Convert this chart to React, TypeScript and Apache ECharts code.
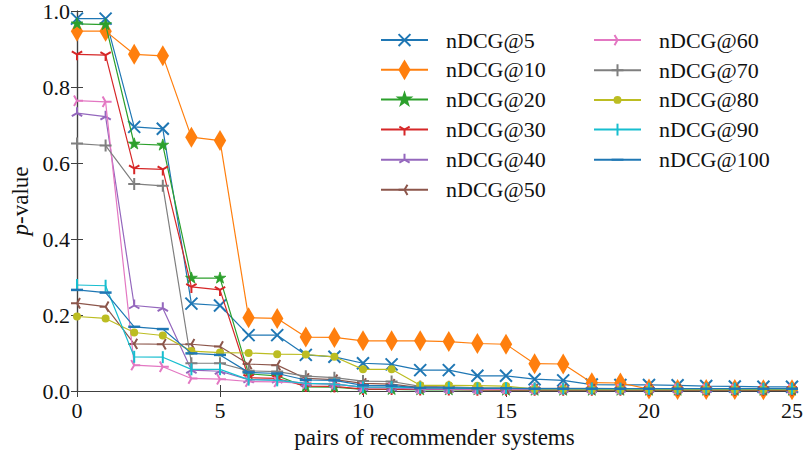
import React, { useEffect, useRef } from "react";
import * as echarts from "echarts";

// p-values for each pair of recommender systems (index 0..25), per nDCG cutoff
const seriesNames = [
  "nDCG@5", "nDCG@10", "nDCG@20", "nDCG@30", "nDCG@40", "nDCG@50",
  "nDCG@60", "nDCG@70", "nDCG@80", "nDCG@90", "nDCG@100",
];

const ndcg5 = [0.98, 0.98, 0.695, 0.69, 0.23, 0.225, 0.147, 0.147, 0.095, 0.09, 0.073, 0.07, 0.055, 0.055, 0.04, 0.04, 0.031, 0.028, 0.017, 0.016, 0.016, 0.015, 0.013, 0.012, 0.011, 0.011];
const ndcg10 = [0.947, 0.947, 0.886, 0.882, 0.668, 0.659, 0.193, 0.191, 0.142, 0.141, 0.132, 0.132, 0.132, 0.13, 0.125, 0.123, 0.072, 0.071, 0.022, 0.021, 0.005, 0.004, 0.004, 0.004, 0.003, 0.003];
const ndcg20 = [0.966, 0.964, 0.65, 0.647, 0.297, 0.297, 0.045, 0.04, 0.011, 0.01, 0.004, 0.004, 0.003, 0.003, 0.003, 0.002, 0.002, 0.002, 0.002, 0.002, 0.002, 0.002, 0.002, 0.002, 0.002, 0.002];
const ndcg30 = [0.886, 0.884, 0.586, 0.583, 0.274, 0.266, 0.035, 0.033, 0.013, 0.012, 0.005, 0.005, 0.004, 0.004, 0.003, 0.003, 0.003, 0.003, 0.003, 0.003, 0.003, 0.003, 0.003, 0.003, 0.003, 0.003];
const ndcg40 = [0.731, 0.722, 0.225, 0.218, 0.055, 0.052, 0.03, 0.029, 0.02, 0.019, 0.009, 0.008, 0.005, 0.005, 0.004, 0.004, 0.004, 0.004, 0.004, 0.004, 0.004, 0.004, 0.004, 0.004, 0.004, 0.004];
const ndcg50 = [0.231, 0.222, 0.124, 0.123, 0.123, 0.117, 0.071, 0.068, 0.033, 0.03, 0.02, 0.018, 0.009, 0.008, 0.006, 0.006, 0.005, 0.005, 0.005, 0.005, 0.005, 0.005, 0.005, 0.005, 0.005, 0.005];
const ndcg60 = [0.764, 0.761, 0.068, 0.064, 0.033, 0.031, 0.025, 0.024, 0.02, 0.018, 0.01, 0.01, 0.006, 0.006, 0.005, 0.005, 0.005, 0.005, 0.005, 0.005, 0.005, 0.005, 0.005, 0.005, 0.005, 0.005];
const ndcg70 = [0.651, 0.646, 0.545, 0.54, 0.073, 0.073, 0.053, 0.051, 0.039, 0.035, 0.026, 0.025, 0.012, 0.011, 0.008, 0.008, 0.007, 0.007, 0.007, 0.006, 0.006, 0.006, 0.006, 0.006, 0.006, 0.006];
const ndcg80 = [0.196, 0.191, 0.154, 0.146, 0.105, 0.101, 0.1, 0.097, 0.096, 0.09, 0.057, 0.057, 0.015, 0.015, 0.014, 0.013, 0.005, 0.005, 0.004, 0.004, 0.004, 0.004, 0.004, 0.004, 0.004, 0.004];
const ndcg90 = [0.279, 0.277, 0.09, 0.089, 0.057, 0.057, 0.03, 0.028, 0.02, 0.018, 0.01, 0.01, 0.008, 0.008, 0.007, 0.007, 0.006, 0.006, 0.006, 0.006, 0.006, 0.006, 0.006, 0.006, 0.006, 0.006];
const ndcg100 = [0.266, 0.259, 0.169, 0.163, 0.099, 0.095, 0.049, 0.046, 0.029, 0.028, 0.015, 0.014, 0.008, 0.008, 0.007, 0.007, 0.006, 0.006, 0.006, 0.006, 0.006, 0.006, 0.006, 0.006, 0.006, 0.006];

const seriesValues = [ndcg5, ndcg10, ndcg20, ndcg30, ndcg40, ndcg50, ndcg60, ndcg70, ndcg80, ndcg90, ndcg100];

const xTicks = [0, 5, 10, 15, 20, 25];
const yTicks = [0, 0.2, 0.4, 0.6, 0.8, 1.0];

const colors = [
  "#1f77b4", "#ff7f0e", "#2ca02c", "#d62728", "#9467bd", "#8c564b",
  "#e377c2", "#7f7f7f", "#bcbd22", "#17becf", "#1f77b4",
];

// Every marker path sits in the same square box so that all markers share one symbolSize
const BOX = " M-10.5,-10.5 M10.5,10.5";
type Marker = { path: string; filled: boolean; width: number };
const markers: Marker[] = [
  { path: "M-6,-6L6,6M6,-6L-6,6", filled: false, width: 2 }, // x
  { path: "M0,-10.5L6.2,0L0,10.5L-6.2,0Z", filled: true, width: 0 }, // thin diamond
  { path: "M0,-6.2L1.4,-1.9L5.9,-1.9L2.3,0.7L3.6,5L0,2.4L-3.6,5L-2.3,0.7L-5.9,-1.9L-1.4,-1.9Z", filled: true, width: 0.8 }, // star
  { path: "M0,0L0,6M0,0L-5.2,-3M0,0L5.2,-3", filled: false, width: 2 }, // tri down
  { path: "M0,0L0,-6M0,0L-5.2,3M0,0L5.2,3", filled: false, width: 2 }, // tri up
  { path: "M0,0L-6,0M0,0L3,-5.2M0,0L3,5.2", filled: false, width: 2 }, // tri left
  { path: "M0,0L6,0M0,0L-3,-5.2M0,0L-3,5.2", filled: false, width: 2 }, // tri right
  { path: "M-6,0L6,0M0,-6L0,6", filled: false, width: 2 }, // plus
  { path: "M-4,0A4,4 0 1,0 4,0A4,4 0 1,0 -4,0Z", filled: true, width: 0 }, // point
  { path: "M0,-6L0,6", filled: false, width: 2 }, // vline
  { path: "M-6,0L6,0", filled: false, width: 2.5 }, // hline
];

const FONT = "Liberation Serif";
const AXIS_COLOR = "#404040";
const TEXT_COLOR = "#111";

export default function App() {
  const ref = useRef<HTMLDivElement>(null);

  useEffect(() => {
    document.body.style.margin = "0";
    if (!ref.current) return;
    const chart = echarts.init(ref.current, null, { renderer: "svg" });

    const series = seriesNames.map((name, k) => {
      const m = markers[k];
      return {
        name,
        type: "line",
        data: seriesValues[k].map((v, i) => [i, v]),
        symbol: "path://" + m.path + BOX,
        symbolSize: 21,
        showSymbol: true,
        showAllSymbol: true,
        lineStyle: { color: colors[k], width: 1.2 },
        itemStyle: {
          color: m.filled ? colors[k] : "rgba(0,0,0,0)",
          borderColor: colors[k],
          borderWidth: m.width,
        },
        emphasis: { disabled: true },
        z: 2 + k,
      };
    });

    const legendCommon = {
      orient: "vertical",
      padding: 0,
      itemWidth: 47,
      itemHeight: 26,
      itemGap: 7.3,
      selectedMode: false,
      textStyle: { fontFamily: FONT, fontSize: 22, color: TEXT_COLOR, padding: [0, 0, 0, 13] },
    };

    const sideAxis = {
      type: "value",
      axisLine: { show: true, lineStyle: { color: AXIS_COLOR, width: 1.2 } },
      axisTick: { show: true, inside: true, length: 6, lineStyle: { color: AXIS_COLOR } },
      axisLabel: { show: false },
      splitLine: { show: false },
    };

    chart.setOption({
      animation: false,
      backgroundColor: "#fff",
      textStyle: { fontFamily: FONT },
      grid: { left: 77, right: 14, top: 11, bottom: 64, outerBoundsMode: "none" },
      legend: [
        { ...legendCommon, left: 380, top: 28.7, data: seriesNames.slice(0, 6) },
        { ...legendCommon, left: 593, top: 28.7, data: seriesNames.slice(6) },
      ],
      xAxis: [
        {
          type: "value",
          min: xTicks[0],
          max: xTicks[xTicks.length - 1],
          interval: 5,
          name: "pairs of recommender systems",
          nameLocation: "middle",
          nameGap: 34,
          nameTextStyle: { fontFamily: FONT, fontSize: 23, color: TEXT_COLOR },
          axisLine: { show: true, lineStyle: { color: AXIS_COLOR, width: 1.2 } },
          axisTick: { show: true, inside: true, length: 6, lineStyle: { color: AXIS_COLOR } },
          axisLabel: { fontFamily: FONT, fontSize: 22, color: TEXT_COLOR, margin: 8 },
          splitLine: { show: false },
        },
        {
          ...sideAxis,
          position: "top",
          min: xTicks[0],
          max: xTicks[xTicks.length - 1],
          interval: 5,
        },
      ],
      yAxis: [
        {
          type: "value",
          min: yTicks[0],
          max: yTicks[yTicks.length - 1],
          interval: 0.2,
          name: "{i|p}{t|-value}",
          nameLocation: "middle",
          nameGap: 32,
          nameRotate: 90,
          nameTextStyle: {
            fontFamily: FONT,
            fontSize: 23,
            color: TEXT_COLOR,
            rich: {
              i: { fontFamily: FONT, fontSize: 23, fontStyle: "italic", color: TEXT_COLOR },
              t: { fontFamily: FONT, fontSize: 23, color: TEXT_COLOR },
            },
          },
          axisLine: { show: true, lineStyle: { color: AXIS_COLOR, width: 1.2 } },
          axisTick: { show: true, inside: true, length: 6, lineStyle: { color: AXIS_COLOR } },
          axisLabel: {
            fontFamily: FONT,
            fontSize: 22,
            color: TEXT_COLOR,
            margin: 7,
            formatter: (v: number) => v.toFixed(1),
          },
          splitLine: { show: false },
        },
        {
          ...sideAxis,
          position: "right",
          min: yTicks[0],
          max: yTicks[yTicks.length - 1],
          interval: 0.2,
        },
      ],
      series,
    });

    return () => chart.dispose();
  }, []);

  return <div ref={ref} style={{ width: 806, height: 455 }} />;
}
